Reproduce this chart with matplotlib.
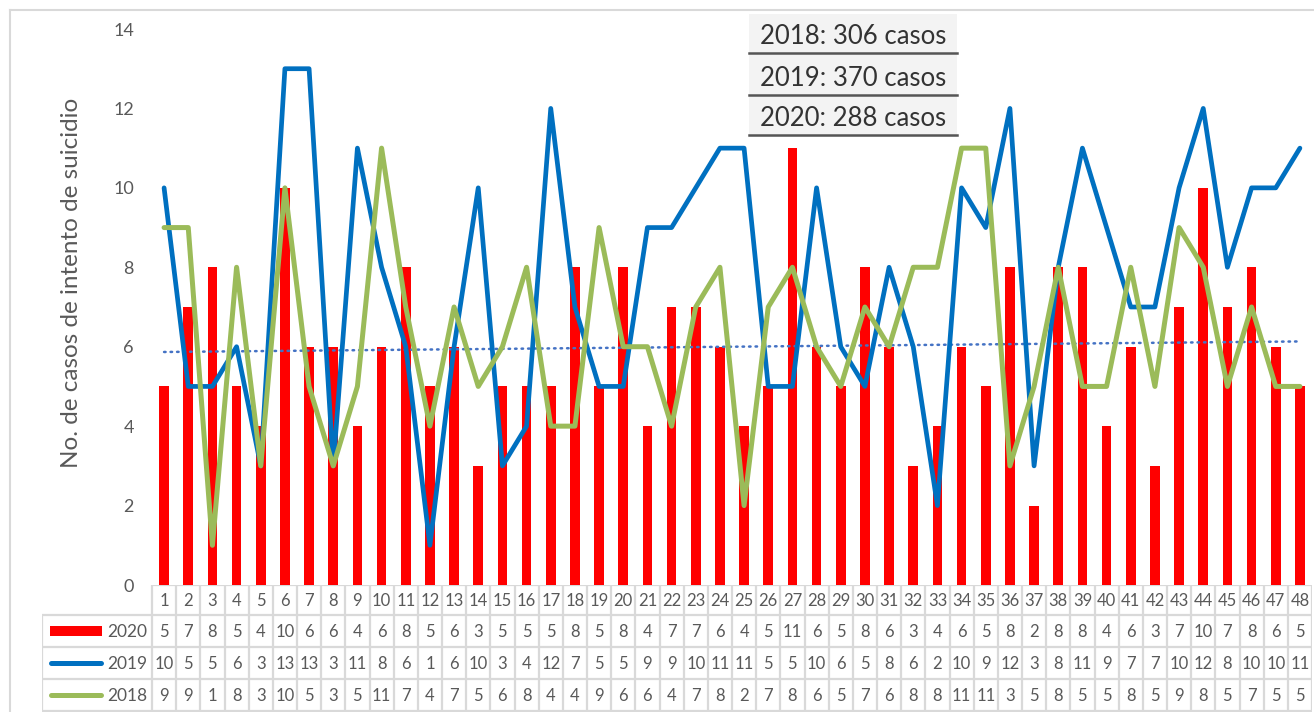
import numpy as np
import matplotlib
matplotlib.use("Agg")
import matplotlib.pyplot as plt
from matplotlib.patches import Rectangle
from matplotlib.lines import Line2D

plt.rcParams['font.family'] = ['Lato', 'DejaVu Sans']

# ---- data ----
weeks = list(range(1, 49))
casos_2020 = [5, 7, 8, 5, 4, 10, 6, 6, 4, 6, 8, 5,
              6, 3, 5, 5, 5, 8, 5, 8, 4, 7, 7, 6, 4, 5, 11, 6, 5,
              8, 6, 3, 4, 6, 5, 8, 2, 8, 8, 4, 6, 3, 7, 10, 7, 8, 6, 5]
casos_2019 = [10, 5, 5, 6, 3, 13, 13, 3, 11, 8, 6, 1,
              6, 10, 3, 4, 12, 7, 5, 5, 9, 9, 10, 11, 11, 5, 5, 10, 6,
              5, 8, 6, 2, 10, 9, 12, 3, 8, 11, 9, 7, 7, 10, 12, 8, 10, 10, 11]
casos_2018 = [9, 9, 1, 8, 3, 10, 5, 3, 5, 11, 7, 4,
              7, 5, 6, 8, 4, 4, 9, 6, 6, 4, 7, 8, 2, 7, 8, 6, 5,
              7, 6, 8, 8, 11, 11, 3, 5, 8, 5, 5, 8, 5, 9, 8, 5, 7, 5, 5]
totales = ["2018: 306 casos", "2019: 370 casos", "2020: 288 casos"]

RED = '#FF0000'
BLUE = '#0070C0'
GREEN = '#9BBB59'
TREND = '#4472C4'
GRAY_TXT = '#595959'
GRID = '#D9D9D9'

W, H = 1314, 712
fig = plt.figure(figsize=(W / 100, H / 100), dpi=100)

def fx(px):
    return px / W

def fy(py):
    return 1 - py / H

# outer frame of the chart area
fig.add_artist(Line2D([fx(10), fx(10)], [fy(10), 0], color=GRID, lw=1.5))
fig.add_artist(Line2D([fx(10), 1], [fy(10), fy(10)], color=GRID, lw=1.5))

# ---- main plot ----
x = np.arange(len(weeks))
ax = fig.add_axes([fx(152), fy(585), fx(1312) - fx(152), fy(29) - fy(585)])
ax.bar(x, casos_2020, width=0.4, color=RED, zorder=1)

coef = np.polyfit(x, casos_2020, 1)
ax.plot(x[[0, -1]], np.polyval(coef, x[[0, -1]]), color=TREND, lw=1.8,
        linestyle=(0, (0.6, 2.0)), dash_capstyle='round', zorder=2)

ax.plot(x, casos_2019, color=BLUE, lw=3.4, solid_joinstyle='round',
        solid_capstyle='round', zorder=3)
ax.plot(x, casos_2018, color=GREEN, lw=3.6, solid_joinstyle='round',
        solid_capstyle='round', zorder=4)

ax.set_xlim(-0.5, len(weeks) - 0.5)
ax.set_ylim(0, 14)
ax.set_yticks(range(0, 15, 2))
ax.tick_params(axis='y', length=0, pad=13, labelsize=13, labelcolor=GRAY_TXT)
ax.set_xticks([])
for s in ax.spines.values():
    s.set_visible(False)
ax.patch.set_alpha(0)
ax.set_ylabel('No. de casos de intento de suicidio', fontsize=17.5,
              color=GRAY_TXT)
ax.yaxis.set_label_coords(-0.06, 0.543)

# ---- data table below the plot ----
tax = fig.add_axes([fx(42), 0, fx(1312) - fx(42), fy(585)])
tax.set_xlim(42, 1312)
tax.set_ylim(712, 585)
tax.axis('off')

col_w = (1312 - 152) / len(weeks)
row_edges = [585, 615, 647, 679, 711]
lkw = dict(color=GRID, lw=1.6, solid_capstyle='butt')

# horizontal lines
tax.plot([152, 1312], [row_edges[0]] * 2, **lkw)
for ry in row_edges[1:]:
    tax.plot([42, 1312], [ry, ry], **lkw)
# vertical lines
for i in range(len(weeks) + 1):
    cx = 152 + i * col_w
    tax.plot([cx, cx], [row_edges[0], row_edges[-1]], **lkw)
tax.plot([42, 42], [row_edges[1], row_edges[-1]], **lkw)

tkw = dict(ha='center', va='center', fontsize=12, color=GRAY_TXT)
rows = [weeks, casos_2020, casos_2019, casos_2018]
for r, vals in enumerate(rows):
    cy = (row_edges[r] + row_edges[r + 1]) / 2 + 1
    for i, v in enumerate(vals):
        tax.text(152 + (i + 0.5) * col_w, cy, str(v), **tkw)

# legend keys in the first column
labels = ['2020', '2019', '2018']
for r, lab in enumerate(labels, start=1):
    cy = (row_edges[r] + row_edges[r + 1]) / 2
    if lab == '2020':
        tax.add_patch(Rectangle((50, cy - 5), 52, 10, color=RED, lw=0))
    else:
        col = BLUE if lab == '2019' else GREEN
        tax.plot([51, 101], [cy, cy], color=col, lw=3.6, solid_capstyle='round')
    tax.text(147, cy + 1, lab, ha='right', va='center', fontsize=12.5,
             color=GRAY_TXT)

# ---- totals box ----
fig.add_artist(Rectangle((fx(749), fy(137)), fx(957) - fx(749), fy(14) - fy(137),
                         transform=fig.transFigure, color='#F3F3F3', lw=0))
centers = [37, 78, 118]
lines_y = [53, 95, 135]
for t, cy, ly in zip(totales, centers, lines_y):
    fig.text(fx(853), fy(cy), t, ha='center', va='center', fontsize=18.5,
             color='#333333')
    fig.add_artist(Line2D([fx(749), fx(957)], [fy(ly), fy(ly)], color='#555555',
                          lw=1.8))

fig.savefig('out.png', dpi=100)
